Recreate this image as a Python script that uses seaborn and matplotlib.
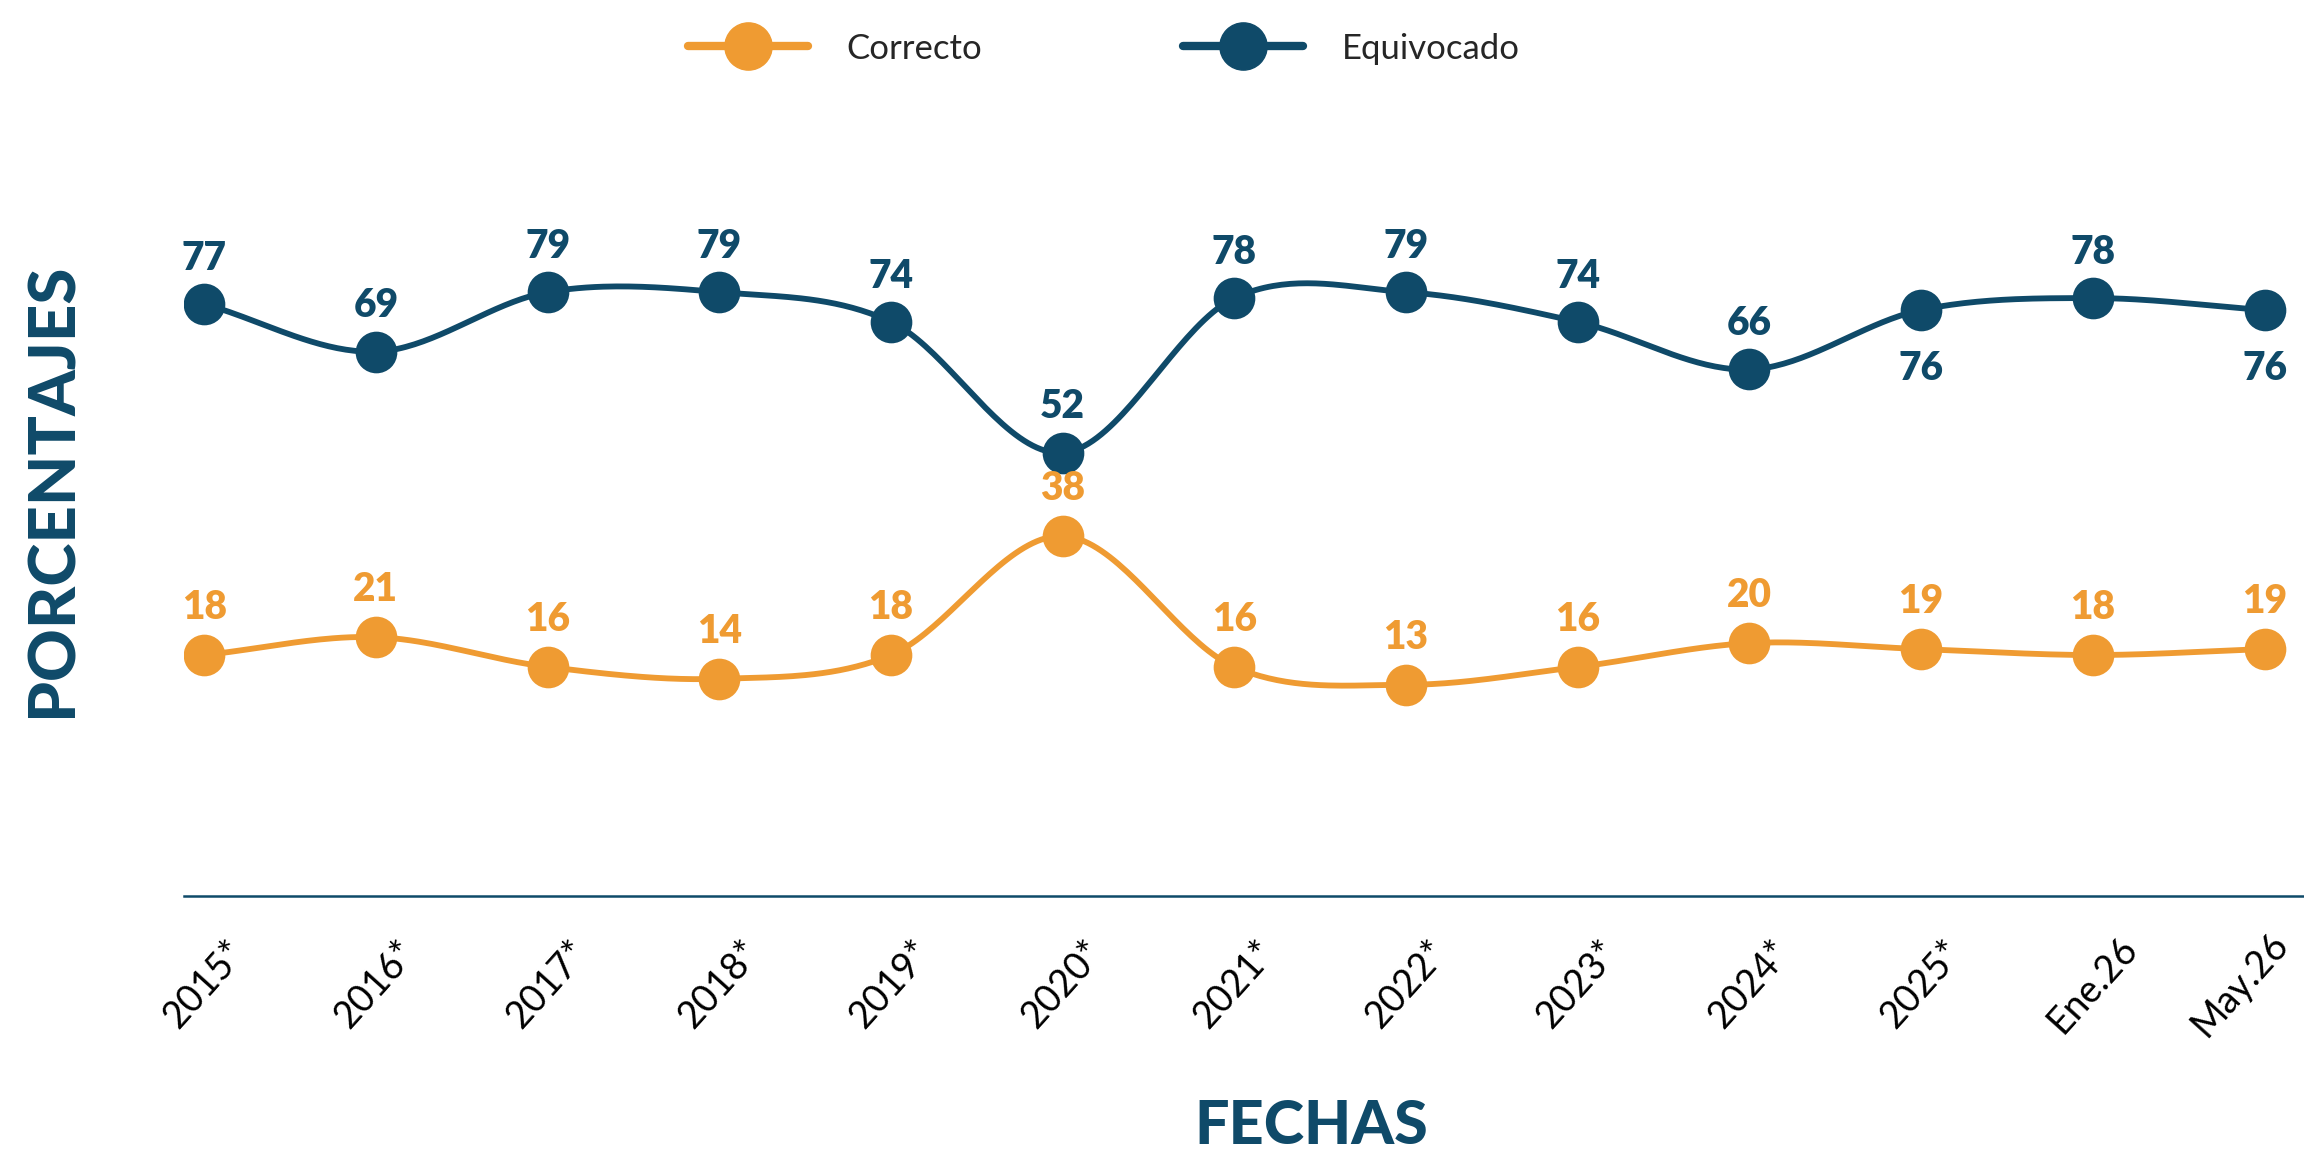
import numpy as np
import pandas as pd
import seaborn as sns
import matplotlib.pyplot as plt
import matplotlib.transforms as mtransforms
from matplotlib.lines import Line2D

# datos
fechas = ["2015*", "2016*", "2017*", "2018*", "2019*", "2020*", "2021*",
          "2022*", "2023*", "2024*", "2025*", "Ene.26", "May.26"]
correcto = [18, 21, 16, 14, 18, 38, 16, 13, 16, 20, 19, 18, 19]
equivocado = [77, 69, 79, 79, 74, 52, 78, 79, 74, 66, 76, 78, 76]

NARANJA = "#EF9B32"
AZUL = "#0F4A69"

sns.set_theme(style="white")
plt.rcParams["font.family"] = ["Lato", "DejaVu Sans"]


# curva suave (Catmull-Rom) para dibujar la linea entre los puntos
def suavizar(valores, n=40):
    y = np.asarray(valores, dtype=float)
    p = np.concatenate([[2 * y[0] - y[1]], y, [2 * y[-1] - y[-2]]])
    xs, ys = [], []
    t = np.linspace(0, 1, n, endpoint=False)
    for i in range(len(y) - 1):
        p0, p1, p2, p3 = p[i], p[i + 1], p[i + 2], p[i + 3]
        ys.append(0.5 * (2 * p1 + (-p0 + p2) * t
                         + (2 * p0 - 5 * p1 + 4 * p2 - p3) * t ** 2
                         + (-p0 + 3 * p1 - 3 * p2 + p3) * t ** 3))
        xs.append(i + t)
    xs.append([len(y) - 1])
    ys.append([y[-1]])
    return pd.DataFrame({"x": np.concatenate(xs), "y": np.concatenate(ys)})


fig = plt.figure(figsize=(23.04, 11.58), dpi=100)
ax = fig.add_axes([0.0799, 0.2263, 0.9201, 0.6442])

pos = np.arange(len(fechas))

for serie, color in [(correcto, NARANJA), (equivocado, AZUL)]:
    curva = suavizar(serie)
    sns.lineplot(data=curva, x="x", y="y", sort=False, estimator=None,
                 color=color, linewidth=4.2, ax=ax, zorder=2)
    sns.scatterplot(x=pos, y=serie, color=color, s=900, linewidth=0,
                    ax=ax, zorder=3)

# etiquetas de valores
abajo = {10, 12}
for i, v in enumerate(equivocado):
    off = -42 if i in abajo else 33
    ax.annotate(str(v), (pos[i], v), xytext=(0, off), textcoords="offset points",
                ha="center", va="center", fontsize=28, fontweight="heavy", color=AZUL)
for i, v in enumerate(correcto):
    ax.annotate(str(v), (pos[i], v), xytext=(0, 34), textcoords="offset points",
                ha="center", va="center", fontsize=28, fontweight="heavy", color=NARANJA)

ax.set_xlim(-0.117, 12.23)
ax.set_ylim(-22.5, 102.9)
ax.set_yticks([])
ax.set_xticks(pos)
ax.set_xticklabels(fechas, rotation=48, ha="center", va="center",
                   rotation_mode="anchor", fontsize=27, color="black")
ax.tick_params(axis="x", length=0, pad=64)
# la ultima etiqueta se corre un poco a la izquierda para no salirse
ultima = ax.get_xticklabels()[-1]
ultima.set_transform(ultima.get_transform()
                     + mtransforms.ScaledTranslation(-0.24, 0, fig.dpi_scale_trans))
ax.set_xlabel("")
ax.set_ylabel("")
for lado in ["top", "right", "left"]:
    ax.spines[lado].set_visible(False)
ax.spines["bottom"].set_color(AZUL)
ax.spines["bottom"].set_linewidth(1.8)

fig.text(0.023, 0.577, "PORCENTAJES", rotation=90, ha="center", va="center",
         fontsize=47, fontweight="black", color=AZUL)
fig.text(0.569, 0.028, "FECHAS", ha="center", va="center",
         fontsize=44, fontweight="black", color=AZUL)

handles = [Line2D([], [], color=NARANJA, lw=6, marker="o", markersize=34),
           Line2D([], [], color=AZUL, lw=6, marker="o", markersize=34)]
fig.legend(handles, ["Correcto", "Equivocado"], loc="center",
           bbox_to_anchor=(0.479, 0.958), ncol=2, frameon=False, fontsize=25,
           handlelength=3.46, handletextpad=1.1, columnspacing=5.8)

fig.savefig("out.png", dpi=100, facecolor="white")
